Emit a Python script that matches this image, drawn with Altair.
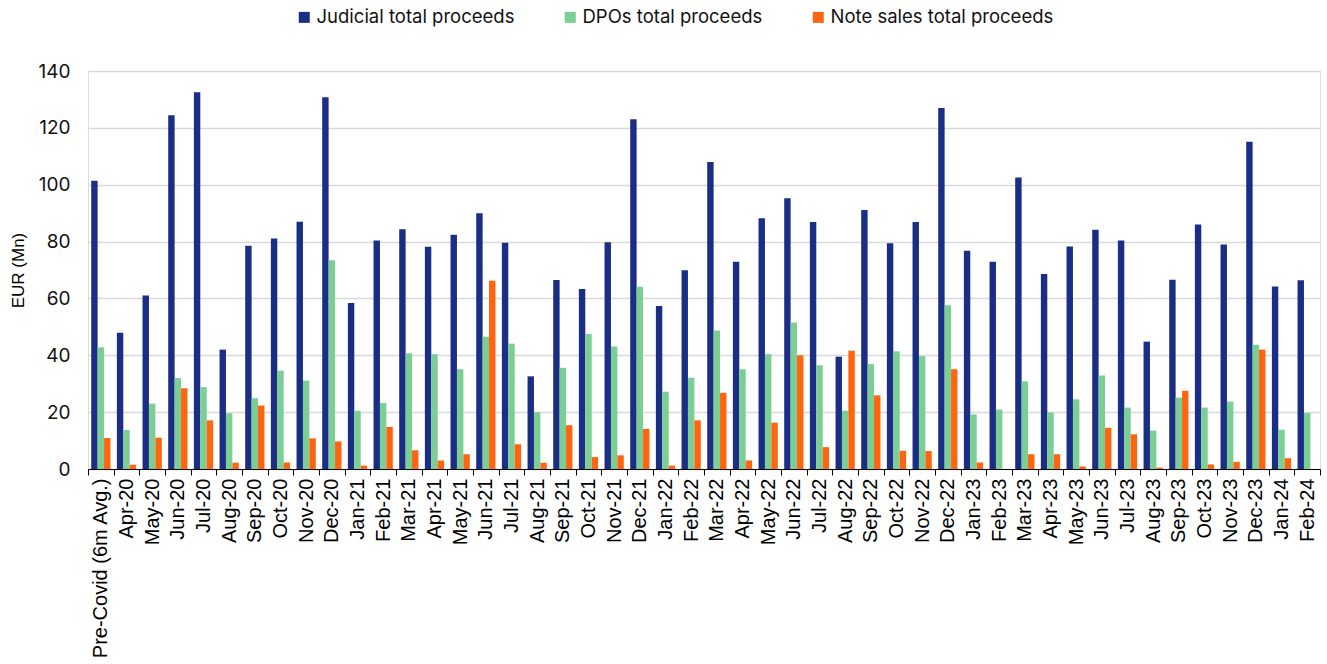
import altair as alt
import pandas as pd

categories = ["Pre-Covid (6m Avg.)", "Apr-20", "May-20", "Jun-20", "Jul-20", "Aug-20", "Sep-20", "Oct-20",
              "Nov-20", "Dec-20", "Jan-21", "Feb-21", "Mar-21", "Apr-21", "May-21", "Jun-21", "Jul-21",
              "Aug-21", "Sep-21", "Oct-21", "Nov-21", "Dec-21", "Jan-22", "Feb-22", "Mar-22", "Apr-22",
              "May-22", "Jun-22", "Jul-22", "Aug-22", "Sep-22", "Oct-22", "Nov-22", "Dec-22", "Jan-23",
              "Feb-23", "Mar-23", "Apr-23", "May-23", "Jun-23", "Jul-23", "Aug-23", "Sep-23", "Oct-23",
              "Nov-23", "Dec-23", "Jan-24", "Feb-24"]

judicial = [101.4, 47.9, 61.0, 124.4, 132.5, 42.0, 78.5, 81.1, 87.0, 130.8, 58.4, 80.4, 84.3, 78.2, 82.4,
            90.0, 79.6, 32.6, 66.5, 63.3, 79.8, 123.0, 57.3, 69.9, 108.0, 72.9, 88.2, 95.2, 86.9, 39.5,
            91.1, 79.4, 86.9, 127.0, 76.8, 72.9, 102.5, 68.6, 78.3, 84.2, 80.4, 44.8, 66.6, 86.0, 79.0,
            115.1, 64.2, 66.4]

dpos = [42.8, 13.7, 23.0, 32.0, 28.8, 19.6, 24.9, 34.6, 31.1, 73.4, 20.5, 23.2, 40.7, 40.4, 35.1, 46.5,
        44.1, 20.0, 35.6, 47.5, 43.1, 64.1, 27.2, 32.1, 48.7, 35.1, 40.4, 51.5, 36.5, 20.5, 36.9, 41.4,
        39.7, 57.6, 19.2, 20.9, 30.8, 19.9, 24.5, 32.9, 21.6, 13.5, 25.1, 21.6, 23.7, 43.7, 13.8, 19.7]

notes = [10.9, 1.5, 11.0, 28.4, 17.1, 2.2, 22.3, 2.3, 10.8, 9.7, 1.2, 14.8, 6.6, 3.0, 5.2, 66.2, 8.7,
         2.2, 15.4, 4.2, 4.8, 14.1, 1.2, 17.1, 26.8, 3.0, 16.3, 40.0, 7.7, 41.6, 25.9, 6.4, 6.3, 35.1,
         2.3, 0.0, 5.2, 5.2, 0.9, 14.5, 12.2, 0.5, 27.5, 1.6, 2.5, 42.0, 3.8, 0.0]

series_names = ["Judicial total proceeds", "DPOs total proceeds", "Note sales total proceeds"]
colors = ["#1B2E85", "#7BCF93", "#FF6410"]

rows = []
for i, c in enumerate(categories):
    for s, vals in zip(series_names, [judicial, dpos, notes]):
        rows.append({"month": c, "series": s, "value": vals[i]})
df = pd.DataFrame(rows)

chart = alt.Chart(df).mark_bar().encode(
    x=alt.X("month:N", sort=categories,
            scale=alt.Scale(paddingInner=0, paddingOuter=0),
            axis=alt.Axis(title=None, labelAngle=-90, tickBand="extent", domainColor="#000000",
                          tickColor="#000000", tickSize=6, labelFont="Liberation Sans",
                          labelFontSize=20, labelColor="#000000",
                          labelPadding=3, grid=False, labelLimit=300)),
    xOffset=alt.XOffset("series:N", sort=series_names,
                        scale=alt.Scale(paddingInner=0, paddingOuter=0.5)),
    y=alt.Y("value:Q", scale=alt.Scale(domain=[0, 140], nice=False),
            axis=alt.Axis(title="EUR (Mn)", values=[0, 20, 40, 60, 80, 100, 120, 140], domain=False,
                          ticks=False, gridColor="#d9d9d9", gridWidth=1.5, labelFont="Inter",
                          labelFontSize=19, labelColor="#111111", labelPadding=18,
                          titleFont="Liberation Sans", titleFontSize=17,
                          titleFontWeight="normal", titleColor="#000000", titlePadding=11)),
    color=alt.Color("series:N", sort=series_names,
                    scale=alt.Scale(domain=series_names, range=colors),
                    legend=alt.Legend(title=None, orient="none", direction="horizontal",
                                      legendX=207, legendY=-63, symbolType="square",
                                      symbolSize=121, symbolStrokeWidth=0, labelFont="Inter",
                                      labelFontSize=18.5, labelColor="#111111", labelLimit=400,
                                      columnPadding=46, labelOffset=3)),
).properties(
    width=1232, height=398,
    autosize=alt.AutoSizeParams(type="none"),
    padding={"left": 88, "top": 71, "right": 7, "bottom": 195},
).configure_view(stroke=None).configure(background="white")

chart.save("out.html", embed_options={"renderer": "svg", "actions": False})
